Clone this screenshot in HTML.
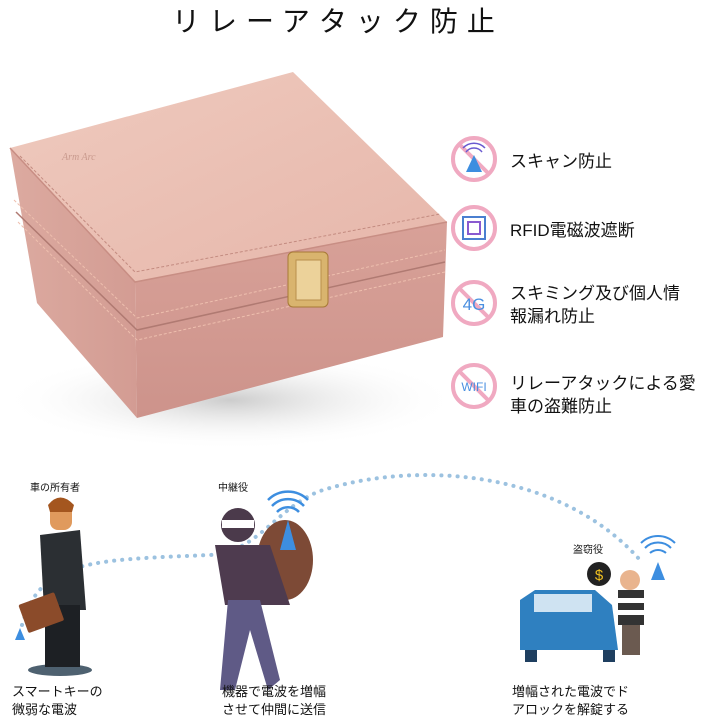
<!DOCTYPE html>
<html><head><meta charset="utf-8"><style>
body{margin:0;width:720px;height:723px;background:#fff;position:relative;overflow:hidden;font-family:"Liberation Sans","Noto Sans CJK JP",sans-serif;color:#111}
.t{position:absolute;white-space:nowrap}
</style></head><body>
<svg width="720" height="723" style="position:absolute;left:0;top:0">
<defs>
<linearGradient id="top" x1="0" y1="0" x2="1" y2="1"><stop offset="0" stop-color="#efcabe"/><stop offset="1" stop-color="#e6b6aa"/></linearGradient>
<linearGradient id="fr" x1="0" y1="0" x2="0" y2="1"><stop offset="0" stop-color="#d8a198"/><stop offset="1" stop-color="#cd938b"/></linearGradient>
<linearGradient id="lf" x1="0" y1="0" x2="1" y2="0"><stop offset="0" stop-color="#dcaaa0"/><stop offset="1" stop-color="#d39c93"/></linearGradient>
<radialGradient id="sh"><stop offset="0" stop-color="#ccc"/><stop offset="1" stop-color="#fff" stop-opacity="0"/></radialGradient>
</defs>
<ellipse cx="230" cy="400" rx="230" ry="50" fill="url(#sh)"/>
<!-- box -->
<polygon points="10,148 37,303 137,418 135,282" fill="url(#lf)"/>
<polygon points="135,282 447,222 443,337 137,418" fill="url(#fr)"/>
<polygon points="10,148 293,72 447,222 135,282" fill="url(#top)"/>
<polyline points="10,148 135,282 447,222" fill="none" stroke="#c88e84" stroke-width="1.5"/>
<polyline points="20,156 135,272 440,214" fill="none" stroke="#c38b80" stroke-width="1" stroke-dasharray="3,2"/>
<polyline points="14,200 137,318 445,250" fill="none" stroke="#eebfae" stroke-width="1" stroke-dasharray="3,2"/>
<polyline points="16,212 137,330 445,262" fill="none" stroke="#b07a72" stroke-width="1.5"/>
<polyline points="18,222 137,340 445,272" fill="none" stroke="#eebfae" stroke-width="1" stroke-dasharray="3,2"/>
<text x="62" y="160" font-size="10" fill="#c99a8e" font-style="italic" font-family="Liberation Serif">Arm Arc</text>
<rect x="288" y="252" width="40" height="55" rx="5" fill="#d9b46e" stroke="#a77a36"/>
<rect x="296" y="260" width="25" height="40" fill="#ecd29a" stroke="#b98f4c"/>
<!-- icons -->
<g fill="none" stroke="#f0a9c1" stroke-width="4">
<circle cx="474" cy="159" r="21"/><circle cx="474" cy="228" r="21"/><circle cx="474" cy="303" r="21"/><circle cx="474" cy="386" r="21"/>
<line x1="460" y1="145" x2="488" y2="173"/><line x1="460" y1="289" x2="488" y2="317"/><line x1="460" y1="372" x2="488" y2="400"/>
</g>
<polygon points="474,155 466,172 482,172" fill="#3d8ee0"/>
<path d="M466,152a10,10 0 0 1 16,0M463,148a15,15 0 0 1 22,0" fill="none" stroke="#6a5ad0" stroke-width="1.5"/>
<rect x="463" y="217" width="22" height="22" fill="none" stroke="#4a7fd0" stroke-width="2"/>
<rect x="468" y="222" width="12" height="12" fill="none" stroke="#8a5ad0" stroke-width="2"/>
<text x="474" y="310" font-size="17" fill="#4a8fe0" text-anchor="middle">4G</text>
<text x="474" y="391" font-size="12" fill="#4a8fe0" text-anchor="middle">WIFI</text>
<!-- dotted arc -->
<path d="M22,625 C40,560 90,560 210,555 C260,553 280,500 330,488 C420,462 560,470 640,560" fill="none" stroke="#9cc2e0" stroke-width="4" stroke-dasharray="0.1,8" stroke-linecap="round"/>
<!-- man -->
<ellipse cx="60" cy="670" rx="32" ry="6" fill="#4e6170"/>
<rect x="50" y="500" width="22" height="30" rx="8" fill="#e09a5d"/>
<path d="M48,505 Q60,490 74,505 L72,512 L50,512Z" fill="#a4561f"/>
<path d="M40,535 L80,530 L86,610 L44,610Z" fill="#2b2f33"/>
<rect x="45" y="605" width="35" height="62" fill="#1d2024"/>
<rect x="22" y="598" width="38" height="30" rx="2" fill="#8b4b2a" transform="rotate(-20 40 612)"/>
<polygon points="20,628 15,640 25,640" fill="#3d8ee0"/>
<!-- middle thief -->
<ellipse cx="285" cy="560" rx="28" ry="40" fill="#7d4a36"/>
<circle cx="238" cy="525" r="17" fill="#4b3a4b"/>
<rect x="222" y="520" width="32" height="8" fill="#fff"/>
<path d="M215,545 L270,545 L290,605 L225,605Z" fill="#4e3b4f"/>
<path d="M228,600 L260,600 L280,680 L268,690 L250,630 L235,690 L220,690Z" fill="#5f5a86"/>
<polygon points="288,520 280,550 296,550" fill="#3d8ee0"/>
<path d="M277,512a15,15 0 0 1 22,0M272,506a22,22 0 0 1 32,0M268,500a28,28 0 0 1 40,0" fill="none" stroke="#3d8ee0" stroke-width="2.5"/>
<!-- car -->
<path d="M520,600 L535,590 L595,590 L612,605 L618,650 L520,650Z" fill="#2f80c0"/>
<rect x="534" y="594" width="58" height="18" fill="#cfe3f2"/>
<rect x="525" y="650" width="12" height="12" fill="#1f3f60"/><rect x="603" y="650" width="12" height="12" fill="#1f3f60"/>
<circle cx="599" cy="574" r="12" fill="#222"/><text x="599" y="580" font-size="15" fill="#f0c020" text-anchor="middle">$</text>
<circle cx="630" cy="580" r="10" fill="#e9b48e"/>
<rect x="618" y="590" width="26" height="35" fill="#333"/><rect x="618" y="598" width="26" height="5" fill="#fff"/><rect x="618" y="610" width="26" height="5" fill="#fff"/>
<rect x="622" y="625" width="18" height="30" fill="#6b5a50"/>
<polygon points="658,562 651,580 665,580" fill="#3d8ee0"/>
<path d="M650,553a12,12 0 0 1 16,0M645,548a18,18 0 0 1 26,0M641,543a24,24 0 0 1 34,0" fill="none" stroke="#3d8ee0" stroke-width="2"/>
</svg>
<div class="t" style="left:172px;top:0px;font-size:28px;letter-spacing:9px">リレーアタック防止</div>
<div class="t" style="left:510px;top:147px;font-size:17px">スキャン防止</div>
<div class="t" style="left:510px;top:216px;font-size:17px">RFID電磁波遮断</div>
<div class="t" style="left:510px;top:282px;font-size:17px;line-height:23px">スキミング及び個人情<br>報漏れ防止</div>
<div class="t" style="left:510px;top:372px;font-size:17px;line-height:23px">リレーアタックによる愛<br>車の盗難防止</div>
<div class="t" style="left:30px;top:479px;font-size:10px">車の所有者</div>
<div class="t" style="left:218px;top:479px;font-size:10px">中継役</div>
<div class="t" style="left:573px;top:541px;font-size:10px">盗窃役</div>
<div class="t" style="left:12px;top:683px;font-size:13px;line-height:18px">スマートキーの<br>微弱な電波</div>
<div class="t" style="left:222px;top:683px;font-size:13px;line-height:18px">機器で電波を増幅<br>させて仲間に送信</div>
<div class="t" style="left:512px;top:683px;font-size:13px;line-height:18px">増幅された電波でド<br>アロックを解錠する</div>
</body></html>
